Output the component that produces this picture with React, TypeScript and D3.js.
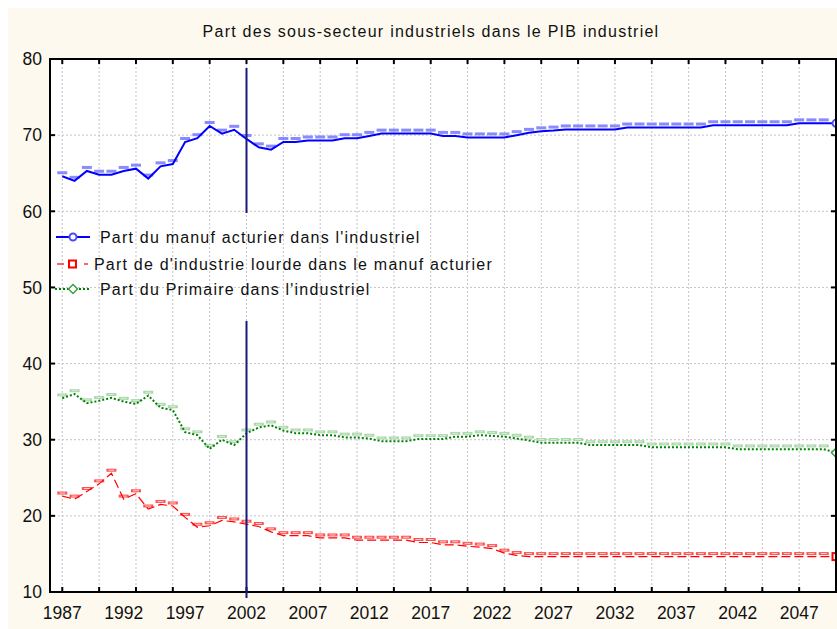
import React from "react";
import * as d3 from "d3";

const years: number[] = d3.range(1987, 2051);

const manufacturier: number[] = [
  64.6, 64.0, 65.3, 64.8, 64.8, 65.3, 65.6, 64.3, 65.9, 66.2,
  69.1, 69.6, 71.2, 70.2, 70.7, 69.5, 68.4, 68.1, 69.1, 69.1,
  69.3, 69.3, 69.3, 69.6, 69.6, 69.9, 70.2, 70.2, 70.2, 70.2,
  70.2, 69.9, 69.9, 69.7, 69.7, 69.7, 69.7, 70.0, 70.3, 70.5,
  70.6, 70.75, 70.75, 70.75, 70.75, 70.75, 71.0, 71.0, 71.0, 71.0,
  71.0, 71.0, 71.0, 71.3, 71.3, 71.3, 71.3, 71.3, 71.3, 71.3,
  71.55, 71.55, 71.55, 71.55,
];

const lourde: number[] = [
  22.6, 22.2, 23.2, 24.2, 25.6, 22.2, 22.9, 20.9, 21.5, 21.3,
  19.8, 18.5, 18.7, 19.4, 19.2, 18.9, 18.6, 17.9, 17.4, 17.4,
  17.4, 17.1, 17.1, 17.1, 16.8, 16.8, 16.8, 16.8, 16.8, 16.5,
  16.5, 16.2, 16.2, 16.0, 15.9, 15.7, 15.1, 14.8, 14.65, 14.65,
  14.65, 14.65, 14.65, 14.65, 14.65, 14.65, 14.65, 14.65, 14.65, 14.65,
  14.65, 14.65, 14.65, 14.65, 14.65, 14.65, 14.65, 14.65, 14.65, 14.65,
  14.65, 14.65, 14.65, 14.65,
];

const primaire: number[] = [
  35.45, 36.0, 34.8, 35.1, 35.5, 35.0, 34.7, 35.8, 34.2, 33.9,
  31.0, 30.6, 28.8, 30.0, 29.3, 30.85, 31.6, 31.9, 31.2, 30.85,
  30.85, 30.6, 30.6, 30.3, 30.3, 30.15, 29.8, 29.8, 29.8, 30.1,
  30.1, 30.1, 30.4, 30.4, 30.6, 30.5, 30.4, 30.15, 29.9, 29.6,
  29.6, 29.6, 29.6, 29.3, 29.3, 29.3, 29.3, 29.3, 29.0, 29.0,
  29.0, 29.0, 29.0, 29.0, 29.0, 28.75, 28.75, 28.75, 28.75, 28.75,
  28.75, 28.75, 28.75, 28.3,
];

const yTicks: number[] = [10, 20, 30, 40, 50, 60, 70, 80];
const xGridYears: number[] = [1987, 1990, 1993, 1996, 1999, 2002, 2005, 2008, 2011, 2014, 2017, 2020, 2023, 2026, 2029, 2032, 2035, 2038, 2041, 2044, 2047];
const xLabelYears: number[] = [1987, 1992, 1997, 2002, 2007, 2012, 2017, 2022, 2027, 2032, 2037, 2042, 2047];
const markerYear = 2002;

const title = "Part des sous-secteur industriels dans le PIB industriel";
const legendLabels: string[] = [
  "Part du manuf acturier dans l'industriel",
  "Part de d'industrie lourde dans le manuf acturier",
  "Part du Primaire dans l'industriel",
];

const FONT = "'Liberation Sans', Arial, Helvetica, sans-serif";

export default function App() {
  const L = 50, R = 836, T = 59, B = 592;
  const x = d3.scaleLinear().domain([1986, 2050]).range([L, R]);
  const y = d3.scaleLinear().domain([10, 80]).range([B, T]);

  const line = (vals: number[]) =>
    d3.line<number>().x((_, i) => x(years[i])).y((v) => y(v))(vals) || "";

  const dashes = (vals: number[], color: string, inner: string | null, off: number) =>
    vals.slice(0, vals.length - 1).map((v, i) => {
      const cx = x(years[i]);
      const cy = y(v) - off;
      return (
        <g key={i}>
          <line x1={cx - 5} x2={cx + 5} y1={cy} y2={cy} stroke={color} strokeWidth={3} />
          {inner ? <line x1={cx - 3} x2={cx + 3} y1={cy} y2={cy} stroke={inner} strokeWidth={1} /> : null}
        </g>
      );
    });

  const last = years.length - 1;

  return (
    <svg width={837} height={629} style={{ position: "absolute", left: 0, top: 0 }}>
      <rect x={8} y={8} width={829} height={621} fill="#fdf9ee" />
      <rect x={L} y={T} width={R - L} height={B - T} fill="#ffffff" />
      <text x={431} y={37} textAnchor="middle" fontFamily={FONT} fontSize={16} letterSpacing={1.25} fill="#111">{title}</text>

      {/* grid */}
      {yTicks.map((t) => (
        <line key={"gy" + t} x1={L} x2={R} y1={y(t)} y2={y(t)} stroke="#c4c4c4" strokeDasharray="2,2" strokeWidth={1} />
      ))}
      {xGridYears.map((t) => (
        <line key={"gx" + t} x1={x(t)} x2={x(t)} y1={T} y2={B} stroke="#c4c4c4" strokeDasharray="2,2" strokeWidth={1} />
      ))}

      {/* light marker dashes */}
      {dashes(primaire, "#a9d6a9", "#d8eed8", 3.3)}
      {dashes(lourde, "#ff5050", "#ffd0d0", 3)}
      {dashes(manufacturier, "#8a8aff", null, 3.5)}

      {/* lines */}
      <path d={line(primaire)} fill="none" stroke="#008000" strokeWidth={2} strokeDasharray="2,2" />
      <path d={line(lourde)} fill="none" stroke="#ff0000" strokeWidth={1.2} strokeDasharray="9,4" />
      <path d={line(manufacturier)} fill="none" stroke="#0000ff" strokeWidth={2} />

      {/* end markers */}
      <circle cx={x(years[last])} cy={y(manufacturier[last])} r={3.5} fill="#fff" stroke="#4a4aff" strokeWidth={2} />
      <rect x={x(years[last]) - 3.5} y={y(lourde[last]) - 3.5} width={7} height={7} fill="#fff" stroke="#ff0000" strokeWidth={2} />
      <path d={`M${x(years[last])},${y(primaire[last]) - 4.5}l4.5,4.5l-4.5,4.5l-4.5,-4.5z`} fill="#fff" stroke="#40a040" strokeWidth={1.5} />

      {/* frame */}
      <rect x={L} y={T} width={R - L} height={B - T} fill="none" stroke="#000" strokeWidth={2} />

      {/* ticks */}
      {yTicks.map((t) => (
        <g key={"ty" + t}>
          <line x1={L} x2={L + 5} y1={y(t)} y2={y(t)} stroke="#000" strokeWidth={2} />
          <line x1={R - 5} x2={R} y1={y(t)} y2={y(t)} stroke="#000" strokeWidth={2} />
          <text x={42} y={y(t)} dy="0.36em" textAnchor="end" fontFamily={FONT} fontSize={17.5} fill="#111">{t}</text>
        </g>
      ))}
      {xGridYears.map((t) => (
        <g key={"tx" + t}>
          <line x1={x(t)} x2={x(t)} y1={B - 5} y2={B} stroke="#000" strokeWidth={2} />
          <line x1={x(t)} x2={x(t)} y1={T} y2={T + 5} stroke="#000" strokeWidth={2} />
        </g>
      ))}
      {xLabelYears.map((t) => (
        <text key={"lx" + t} x={x(t)} y={619} textAnchor="middle" fontFamily={FONT} fontSize={17.5} fill="#111">{t}</text>
      ))}

      {/* vertical marker line */}
      <line x1={x(markerYear)} x2={x(markerYear)} y1={68} y2={213} stroke="#1a1a7a" strokeWidth={2} />
      <line x1={x(markerYear)} x2={x(markerYear)} y1={321} y2={598} stroke="#1a1a7a" strokeWidth={2} />

      {/* legend */}
      <g fontFamily={FONT} fontSize={16} letterSpacing={1.2} fill="#111">
        <line x1={56} x2={90} y1={237} y2={237} stroke="#0000ff" strokeWidth={2} />
        <circle cx={73} cy={237} r={3.5} fill="#fff" stroke="#4a4aff" strokeWidth={2} />
        <text x={100} y={237} dy="0.36em">{legendLabels[0]}</text>

        <line x1={57} x2={64} y1={264} y2={264} stroke="#ff0000" strokeWidth={1.2} />
        <line x1={84} x2={88} y1={264} y2={264} stroke="#ff0000" strokeWidth={1.2} />
        <rect x={69} y={260.5} width={7} height={7} fill="#fff" stroke="#ff0000" strokeWidth={2} />
        <text x={94} y={264} dy="0.36em">{legendLabels[1]}</text>

        <line x1={55} x2={90} y1={289} y2={289} stroke="#008000" strokeWidth={2} strokeDasharray="2,2" />
        <path d="M73,284.5l4.5,4.5l-4.5,4.5l-4.5,-4.5z" fill="#fff" stroke="#40a040" strokeWidth={1.5} />
        <text x={100} y={289} dy="0.36em">{legendLabels[2]}</text>
      </g>
    </svg>
  );
}
